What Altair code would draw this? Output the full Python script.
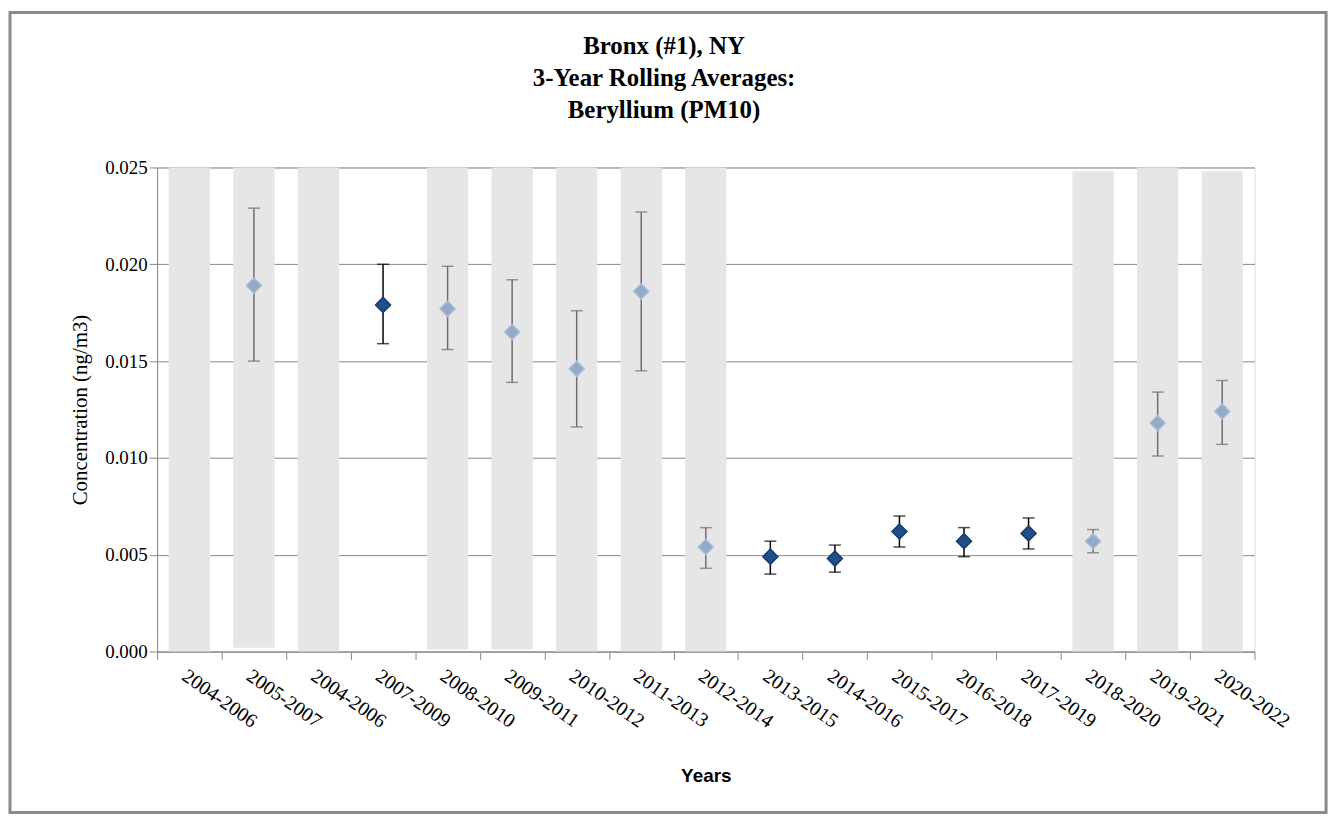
import altair as alt
import pandas as pd

labels = ["2004-2006","2005-2007","2004-2006","2007-2009","2008-2010","2009-2011","2010-2012",
          "2011-2013","2012-2014","2013-2015","2014-2016","2015-2017","2016-2018","2017-2019",
          "2018-2020","2019-2021","2020-2022"]
bar_idx = [0,1,2,4,5,6,7,8,14,15,16]
bar_lo = [0,0.0002,0,0.0001,0.0001,0,0,0,0,0,0]
bar_hi = [0.025,0.025,0.025,0.025,0.025,0.025,0.025,0.025,0.0248,0.025,0.0248]
pt_idx = [1,3,4,5,6,7,8,9,10,11,12,13,14,15,16]
pt_val = [0.0189,0.0179,0.0177,0.0165,0.0146,0.0186,0.0054,0.0049,0.0048,0.0062,0.0057,0.0061,0.0057,0.0118,0.0124]
pt_lo  = [0.0150,0.0159,0.0156,0.0139,0.0116,0.0145,0.0043,0.0040,0.0041,0.0054,0.0049,0.0053,0.0051,0.0101,0.0107]
pt_hi  = [0.0229,0.0200,0.0199,0.0192,0.0176,0.0227,0.0064,0.0057,0.0055,0.0070,0.0064,0.0069,0.0063,0.0134,0.0140]
pt_grp = ["l","d","l","l","l","l","l","d","d","d","d","d","l","l","l"]
title_lines = ["Bronx (#1), NY", "3-Year Rolling Averages:", "Beryllium (PM10)"]

bars = pd.DataFrame({"i": bar_idx, "lo": bar_lo, "hi": bar_hi})
pts = pd.DataFrame({"i": pt_idx, "v": pt_val, "lo": pt_lo, "hi": pt_hi, "g": pt_grp})

SERIF = "Liberation Serif"
W, H = 1104, 487
lab_js = "[" + ",".join(f"'{l}'" for l in labels) + "]"
xenc = alt.X("i:O", scale=alt.Scale(domain=list(range(17)), paddingInner=0, paddingOuter=0),
             axis=alt.Axis(labelExpr=f"{lab_js}[datum.value]", labelAngle=35, labelAlign="left",
                           labelBaseline="top", labelFont=SERIF, labelFontSize=20,
                           labelColor="black", tickBand="extent", domainColor="#888", tickColor="#888",
                           tickSize=8, labelPadding=6, title="Years", titleFont="Liberation Sans",
                           titleFontSize=19, titleFontWeight="bold", titleColor="black", titlePadding=36))
yscale = alt.Scale(domain=[0, 0.025])
YT = "Concentration (ng/m3)"
yaxis = alt.Axis(values=[0,0.005,0.01,0.015,0.02,0.025], format=".3f", labelFont=SERIF,
                 labelFontSize=19, labelColor="black", gridColor="#888", domainColor="#888",
                 tickColor="#888", tickSize=8, title=YT, titleFont=SERIF,
                 titleFontSize=21, titleFontWeight="normal", titleColor="black", titlePadding=14)

b = alt.Chart(bars).mark_bar(color="#e6e6e6", width={"band": 0.64}).encode(
    x=xenc, y=alt.Y("lo:Q", scale=yscale, axis=yaxis, title=YT), y2="hi:Q")
err = alt.Chart(pts).mark_errorbar(ticks=alt.TickConfig(size=12), thickness=1.5).encode(
    x="i:O", y=alt.Y("lo:Q", scale=yscale, title=YT), y2="hi:Q",
    color=alt.Color("g:N", scale=alt.Scale(domain=["l","d"], range=["#6e6e6e","#000000"]), legend=None))
pt = alt.Chart(pts).mark_point(shape="diamond", filled=True, size=230, strokeWidth=1.5, opacity=1).encode(
    x="i:O", y=alt.Y("v:Q", scale=yscale, title=YT),
    fill=alt.Fill("g:N", scale=alt.Scale(domain=["l","d"], range=["#93a9c8","#1f4e88"]), legend=None),
    stroke=alt.Stroke("g:N", scale=alt.Scale(domain=["l","d"], range=["#a9bcd6","#163d6e"]), legend=None))
ttls = [alt.Chart(pd.DataFrame({"t": [t]})).mark_text(font=SERIF, fontSize=25, fontWeight="bold",
                                                     color="black", baseline="middle", align="center").encode(
            x=alt.value(W / 2 - 42), y=alt.value(-122 + 32 * k), text="t:N")
        for k, t in enumerate(title_lines)]
frame = alt.Chart(pd.DataFrame({"a": [0]})).mark_rect(fill=None, stroke="#8a8a8a", strokeWidth=3).encode(
    x=alt.value(-148), x2=alt.value(W + 72), y=alt.value(-156), y2=alt.value(H + 162))

chart = alt.layer(b, err, pt, *ttls, frame).properties(
    width=W, height=H,
    autosize="none", padding={"left": 150, "top": 158, "right": 82, "bottom": 164}
).configure_view(stroke=None).configure(background="white")

chart.save("out.html", embed_options={"renderer": "svg", "actions": False})
